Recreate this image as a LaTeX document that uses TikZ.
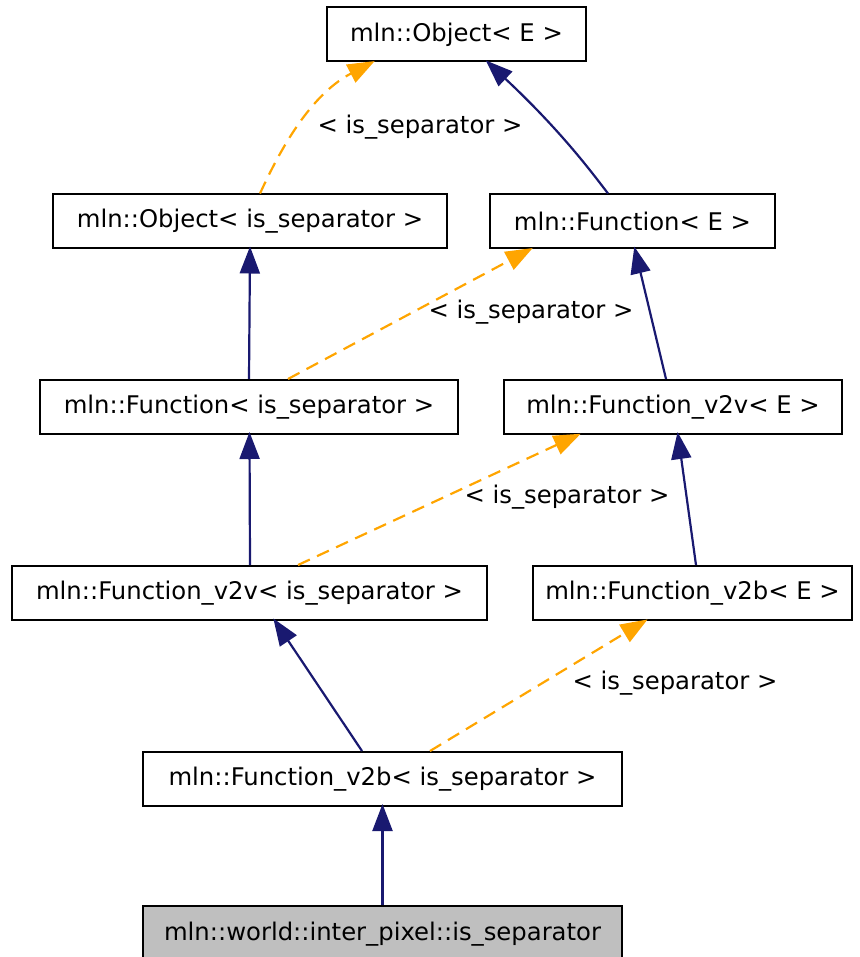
\documentclass[tikz,border=0pt]{standalone}
\usepackage{fontspec}
\setmainfont{DejaVu Sans}
\usetikzlibrary{arrows.meta}
\definecolor{edgeblue}{RGB}{25,25,112}
\definecolor{edgeorange}{RGB}{255,165,0}
\begin{document}
\begin{tikzpicture}[x=1pt,y=-1pt,
  cls/.style={draw=black,line width=2pt,fill=white,inner sep=0pt,minimum height=54pt,font=\fontsize{24.3}{28}\selectfont},
  inh/.style={draw=edgeblue,line width=2.2pt,shorten >=-3pt,-{Triangle[length=27pt,width=20pt]}},
  tmpl/.style={draw=edgeorange,line width=2.2pt,shorten >=-3pt,dash pattern=on 13pt off 8pt,-{Triangle[length=27pt,width=20pt,fill=edgeorange]}},
  lbl/.style={font=\fontsize{24.3}{28}\selectfont,inner sep=0pt}]
\useasboundingbox (0,0) rectangle (859,957);
\node[cls,minimum width=259pt] (oe) at (456.5,34.5) {mln::Object< E >};
\node[cls,minimum width=394pt] (ois) at (250,221.5) {mln::Object< is\_separator >};
\node[cls,minimum width=285pt] (fe) at (632.5,221.5) {mln::Function< E >};
\node[cls,minimum width=418pt] (fis) at (249,407) {mln::Function< is\_separator >};
\node[cls,minimum width=338pt] (fvve) at (673,407) {mln::Function\_v2v< E >};
\node[cls,minimum width=475pt] (fvvis) at (249.5,593) {mln::Function\_v2v< is\_separator >};
\node[cls,minimum width=319pt] (fvbe) at (692.5,593) {mln::Function\_v2b< E >};
\node[cls,minimum width=479pt] (fvbis) at (382.5,779) {mln::Function\_v2b< is\_separator >};
\node[cls,minimum width=479pt,minimum height=56pt,fill={rgb,255:red,191;green,191;blue,191}] (isep) at (382.5,934) {mln::world::inter\_pixel::is\_separator};

% solid inheritance edges
\draw[inh] ([xshift=-24.5pt]fe.north) .. controls (590,170) and (560,130) .. ([xshift=31.5pt]oe.south);
\draw[inh] ([xshift=0pt]fis.north) -- ([xshift=0pt]ois.south);
\draw[inh] ([xshift=-7pt]fvve.north) -- ([xshift=2.5pt]fe.south);
\draw[inh] ([xshift=0.5pt]fvvis.north) -- ([xshift=0.5pt]fis.south);
\draw[inh] ([xshift=3.5pt]fvbe.north) -- ([xshift=5pt]fvve.south);
\draw[inh] ([xshift=-20.5pt]fvbis.north) -- ([xshift=25.5pt]fvvis.south);
\draw[inh] (isep.north) -- (fvbis.south);

% template edges
\draw[tmpl] ([xshift=10pt]ois.north) .. controls (280,150) and (310,95) .. ([xshift=-84.5pt]oe.south);
\node[lbl] (l1) at (420,127) {< is\_separator >};
\draw[tmpl] ([xshift=39pt]fis.north) -- ([xshift=-102.5pt]fe.south);
\node[lbl] (l2) at (531,312) {< is\_separator >};
\draw[tmpl] ([xshift=48.5pt]fvvis.north) -- ([xshift=-95pt]fvve.south);
\node[lbl] (l3) at (567,497) {< is\_separator >};
\draw[tmpl] ([xshift=47.5pt]fvbis.north) -- ([xshift=-47.5pt]fvbe.south);
\node[lbl] (l4) at (675,683) {< is\_separator >};
\end{tikzpicture}
\end{document}
